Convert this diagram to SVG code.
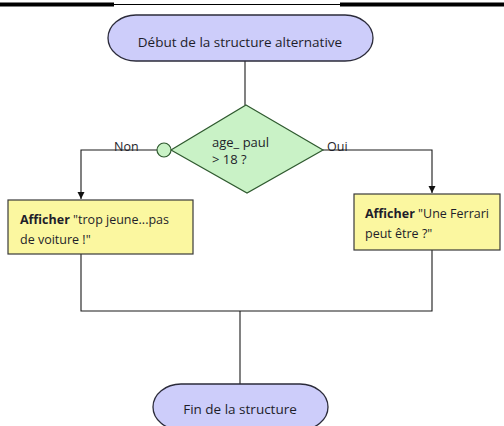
<svg xmlns="http://www.w3.org/2000/svg" width="504" height="426" viewBox="0 0 504 426">
  <style>
    .term { fill: #cdcdfa; stroke: #2b2b3a; stroke-width: 1.3; }
    .dec { fill: #c9f2c6; stroke: #2f5a2f; stroke-width: 1.2; }
    .act { fill: #fbf7a0; stroke: #3a3a3a; stroke-width: 1.2; }
    .wire { fill: none; stroke: #1a1a1a; stroke-width: 1.1; }
    text { font-family: "Open Sans", "Liberation Sans", sans-serif; font-size: 12.5px; fill: #1e1e2a; }
    .lbl { font-size: 12.5px; }
    .b { font-weight: bold; }
  </style>
  <defs>
    <marker id="arrow" viewBox="0 0 10 10" refX="10" refY="5" markerWidth="7" markerHeight="8" orient="auto" markerUnits="userSpaceOnUse">
      <path d="M0,0 L10,5 L0,10 z" fill="#111"/>
    </marker>
  </defs>

  <!-- header rule -->
  <g id="header">
    <line x1="0" y1="4.5" x2="504" y2="4.5" stroke="#000" stroke-width="1.2"/>
    <rect x="0" y="2.5" width="114" height="4" fill="#000"/>
    <rect x="340" y="2.5" width="164" height="4" fill="#000"/>
  </g>

  <!-- connectors -->
  <g id="connectors">
    <line class="wire" x1="245" y1="61" x2="245" y2="105"/>
    <polyline class="wire" points="157,150 81,150 81,199" marker-end="url(#arrow)"/>
    <polyline class="wire" points="323,150 432,150 432,193" marker-end="url(#arrow)"/>
    <polyline class="wire" points="81,254 81,311 432,311 432,250"/>
    <line class="wire" x1="240" y1="311" x2="240" y2="384"/>
    <text class="lbl" x="114" y="151">Non</text>
    <text class="lbl" x="327" y="151">Oui</text>
  </g>

  <g id="start">
    <rect class="term" x="108" y="15" width="265" height="46" rx="28" ry="23"/>
    <text x="240" y="47" text-anchor="middle" style="font-size:13.5px">Début de la structure alternative</text>
  </g>

  <g id="decision">
    <polygon class="dec" points="246,105 323,150 247,193 171,150"/>
    <text x="212" y="147" style="font-size:13px">age_ paul</text>
    <text x="212" y="164" style="font-size:13px">&gt; 18 ?</text>
  </g>

  <g id="join-no">
    <circle class="dec" cx="164" cy="150" r="7"/>
  </g>

  <g id="show-young">
    <rect class="act" x="8" y="200" width="185" height="54"/>
    <text x="20" y="224"><tspan class="b">Afficher</tspan> "trop jeune...pas</text>
    <text x="20" y="244">de voiture !"</text>
  </g>

  <g id="show-ferrari">
    <rect class="act" x="354" y="194" width="146" height="56"/>
    <text x="365" y="218"><tspan class="b">Afficher</tspan> "Une Ferrari</text>
    <text x="365" y="238">peut être ?"</text>
  </g>

  <g id="end">
    <rect class="term" x="153" y="384" width="175" height="46" rx="28" ry="23"/>
    <text x="240" y="414" text-anchor="middle" style="font-size:13.5px">Fin de la structure</text>
  </g>
</svg>
